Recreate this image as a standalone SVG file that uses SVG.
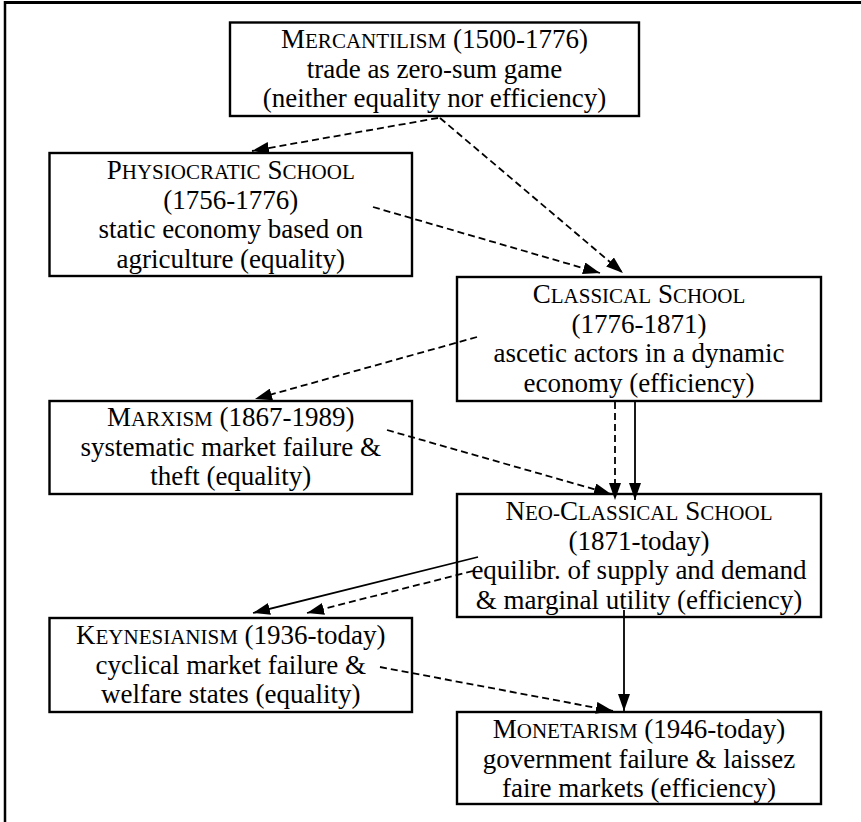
<svg xmlns="http://www.w3.org/2000/svg" width="861" height="822" viewBox="0 0 861 822">
<style>
.box{fill:#fff;stroke:#000;stroke-width:2.4}
text{font-family:"Liberation Serif","Times New Roman",serif;font-size:27px;fill:#000;text-anchor:middle}
.sc{font-size:21px}
.dash{stroke:#000;stroke-width:1.8;fill:none;stroke-dasharray:7 4;marker-end:url(#ah)}
.solid{stroke:#000;stroke-width:1.8;fill:none;marker-end:url(#ah)}
.frame{stroke:#000;fill:none}
</style>
<defs>
<marker id="ah" markerUnits="userSpaceOnUse" markerWidth="17" markerHeight="12" refX="17" refY="6" orient="auto">
<path d="M0,0 L17,6 L0,12 z" fill="#000"/>
</marker>
</defs>
<g id="frame">
<line class="frame" x1="4" y1="2.5" x2="861" y2="2.5" stroke-width="3"/>
<line class="frame" x1="5" y1="1" x2="5" y2="822" stroke-width="2.5"/>
</g>
<g id="mercantilism">
<rect class="box" x="230" y="22.5" width="409" height="93.5"/>
<text x="434.5" y="48">M<tspan class="sc">ERCANTILISM</tspan> (1500-1776)</text>
<text x="434.5" y="77.5">trade as zero-sum game</text>
<text x="434.5" y="107">(neither equality nor efficiency)</text>
</g>
<g id="physiocratic">
<rect class="box" x="49.5" y="153" width="362.5" height="123"/>
<text x="230.75" y="179">P<tspan class="sc">HYSIOCRATIC</tspan> S<tspan class="sc">CHOOL</tspan></text>
<text x="230.75" y="208.5">(1756-1776)</text>
<text x="230.75" y="238">static economy based on</text>
<text x="230.75" y="267.5">agriculture (equality)</text>
</g>
<g id="classical">
<rect class="box" x="457" y="277" width="364" height="124"/>
<text x="639" y="303">C<tspan class="sc">LASSICAL</tspan> S<tspan class="sc">CHOOL</tspan></text>
<text x="639" y="332.5">(1776-1871)</text>
<text x="639" y="362">ascetic actors in a dynamic</text>
<text x="639" y="391.5">economy (efficiency)</text>
</g>
<g id="marxism">
<rect class="box" x="49.5" y="401" width="362.5" height="93"/>
<text x="230.75" y="426">M<tspan class="sc">ARXISM</tspan> (1867-1989)</text>
<text x="230.75" y="455.5">systematic market failure &amp;</text>
<text x="230.75" y="485">theft (equality)</text>
</g>
<g id="neoclassical">
<rect class="box" x="457" y="494" width="364" height="123"/>
<text x="639" y="520">N<tspan class="sc">EO-</tspan>C<tspan class="sc">LASSICAL</tspan> S<tspan class="sc">CHOOL</tspan></text>
<text x="639" y="549.5">(1871-today)</text>
<text x="639" y="579">equilibr. of supply and demand</text>
<text x="639" y="608.5">&amp; marginal utility (efficiency)</text>
</g>
<g id="keynesianism">
<rect class="box" x="49.5" y="618" width="362.5" height="94"/>
<text x="230.75" y="644">K<tspan class="sc">EYNESIANISM</tspan> (1936-today)</text>
<text x="230.75" y="673.5">cyclical market failure &amp;</text>
<text x="230.75" y="703">welfare states (equality)</text>
</g>
<g id="monetarism">
<rect class="box" x="457" y="712" width="364" height="92"/>
<text x="639" y="738">M<tspan class="sc">ONETARISM</tspan> (1946-today)</text>
<text x="639" y="767.5">government failure &amp; laissez</text>
<text x="639" y="797">faire markets (efficiency)</text>
</g>
<g id="connectors">
<line class="dash" x1="438" y1="118" x2="252" y2="151"/>
<line class="dash" x1="440" y1="118" x2="623" y2="273"/>
<line class="dash" x1="373" y1="207" x2="600" y2="273"/>
<line class="dash" x1="477" y1="337" x2="255" y2="399"/>
<line class="dash" x1="387" y1="430" x2="611" y2="494"/>
<line class="dash" x1="615" y1="402" x2="615" y2="500"/>
<line class="solid" x1="635" y1="402" x2="635" y2="500"/>
<line class="solid" x1="478" y1="557" x2="253" y2="613"/>
<line class="dash" x1="473" y1="571" x2="307" y2="613"/>
<line class="dash" x1="380" y1="667" x2="613" y2="711"/>
<line class="solid" x1="624" y1="610" x2="624" y2="711"/>
</g>
</svg>
